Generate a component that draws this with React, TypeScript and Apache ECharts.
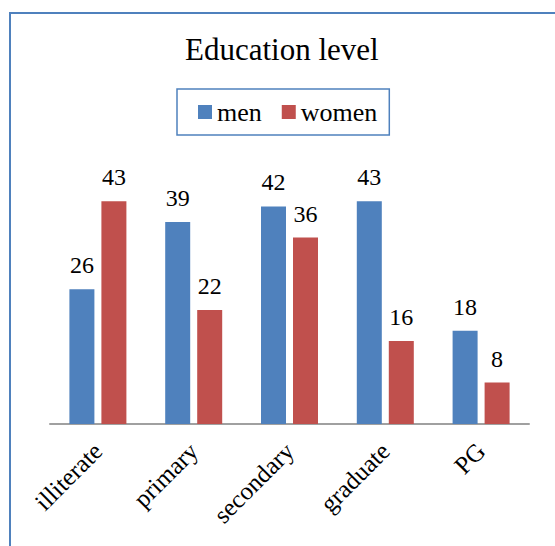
import React, { useEffect, useRef, useState } from "react";
import * as echarts from "echarts";

const categories = ["illiterate", "primary", "secondary", "graduate", "PG"];
const menValues = [26, 39, 42, 43, 18];
const womenValues = [43, 22, 36, 16, 8];

const SERIF = "Liberation Serif";
const BLUE = "#4f81bd";
const RED = "#c0504d";

export default function App() {
  const ref = useRef<HTMLDivElement>(null);
  const [, setFontsChecked] = useState(false);

  useEffect(() => {
    document.body.style.margin = "0";
    if (!ref.current) return;
    const chart = echarts.init(ref.current, undefined, { renderer: "svg" });
    const valueLabel = {
      show: true,
      position: "top" as const,
      distance: 12,
      color: "#000",
      fontFamily: SERIF,
      fontSize: 24,
    };
    chart.setOption({
      animation: false,
      title: {
        text: "Education level",
        left: 185,
        top: 34,
        padding: 0,
        textStyle: { fontFamily: SERIF, fontSize: 31, fontWeight: "normal", color: "#000" },
      },
      legend: {
        left: 177,
        top: 89,
        padding: [10, 12, 10, 21],
        borderColor: BLUE,
        borderWidth: 1.5,
        itemWidth: 14,
        itemHeight: 14,
        itemGap: 20,
        icon: "rect",
        textStyle: { fontFamily: SERIF, fontSize: 26, color: "#000" },
        data: ["men", "women"],
      },
      grid: { left: 50, right: 26, top: 165, bottom: 122 },
      xAxis: {
        type: "category",
        data: categories,
        axisLine: { lineStyle: { color: "#a0a0a0", width: 2 } },
        axisTick: { show: false },
        axisLabel: {
          rotate: 45,
          margin: 23,
          interval: 0,
          color: "#000",
          fontFamily: SERIF,
          fontSize: 25,
        },
      },
      yAxis: { type: "value", min: 0, max: 50, show: false },
      series: [
        {
          name: "men",
          type: "bar",
          data: menValues,
          barWidth: 25,
          barGap: "28%",
          itemStyle: { color: BLUE },
          label: valueLabel,
        },
        {
          name: "women",
          type: "bar",
          data: womenValues,
          barWidth: 25,
          itemStyle: { color: RED },
          label: valueLabel,
        },
      ],
    });
    // resolve the serif face for every text node before the first paint settles
    Array.from(ref.current.querySelectorAll("text")).forEach((t) => getComputedStyle(t).fontFamily);
    setFontsChecked(true);
    return () => chart.dispose();
  }, []);

  return (
    <div style={{ position: "relative", width: 555, height: 546, overflow: "hidden" }}>
      <div ref={ref} style={{ width: 555, height: 546 }} />
      {/* chart-area frame: top and left edges, the rest runs past the page */}
      <div
        style={{
          position: "absolute",
          left: 9,
          top: 12,
          width: 600,
          height: 600,
          borderTop: `2px solid ${BLUE}`,
          borderLeft: `2px solid ${BLUE}`,
          pointerEvents: "none",
        }}
      />
    </div>
  );
}
